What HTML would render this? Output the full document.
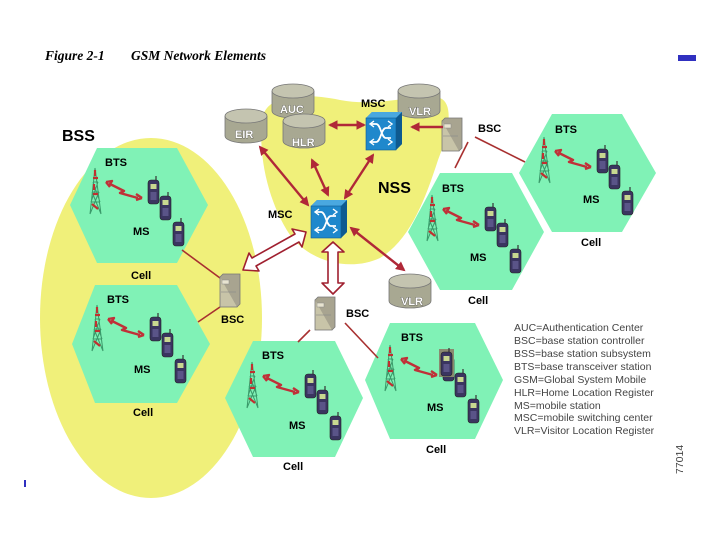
<!DOCTYPE html>
<html><head><meta charset="utf-8"><style>
html,body{margin:0;padding:0;background:#fff}
svg{display:block}
.l{font-family:"Liberation Sans",Arial,sans-serif;font-weight:bold;font-size:11px;fill:#000}
.db{font-family:"Liberation Sans",Arial,sans-serif;font-weight:bold;font-size:11px;fill:#fff;stroke:#333;stroke-width:0.6;paint-order:stroke}
.lg{font-family:"Liberation Sans",Arial,sans-serif;font-size:10.5px;fill:#444}
</style></head><body>
<svg width="720" height="540" viewBox="0 0 720 540" xmlns="http://www.w3.org/2000/svg">
<defs>
<g id="tower">
<path d="M7 0 L2 46 M7 0 L13 46 M4 24 L11 24 M3 34 L12 34 M5 14 L10 14 M2 46 L11 24 M13 46 L4 24 M3 34 L10 14 M12 34 L5 14" stroke="#3a9a6a" stroke-width="1" fill="none"/>
<path d="M7 2 v6 M5 10 h5 M6 16 v6 M5 26 h5 M4 36 l6 5" stroke="#c03030" stroke-width="2.2" fill="none"/>
</g>
<g id="phone">
<line x1="8" y1="-4" x2="8" y2="2" stroke="#333" stroke-width="1.2"/>
<rect x="0" y="0" width="11" height="24" rx="3" fill="#3a3560" stroke="#222" stroke-width="0.6"/>
<rect x="2.5" y="4" width="6" height="5" fill="#c8d890"/>
<rect x="2.5" y="12" width="6" height="8" fill="#5a5488"/>
</g>
<g id="cell">
<use href="#tower" x="0" y="0"/>
<path d="M18 14 l6 -1 l-2 3 l14 7 l-4 2 l18 5 M18 14 l4 5 M54 30 l-6 -4 M54 30 l-6 2" stroke="#c03038" stroke-width="2.4" fill="none" stroke-linejoin="round"/>
<use href="#phone" x="60" y="12"/>
<use href="#phone" x="72" y="28"/>
<use href="#phone" x="85" y="54"/>
</g>
<g id="cyl">
<path d="M0 8 v20 a21 7 0 0 0 42 0 v-20" fill="#a8a892" stroke="#777" stroke-width="0.8"/>
<ellipse cx="21" cy="8" rx="21" ry="7" fill="#c4c4b0" stroke="#777" stroke-width="0.8"/>
</g>
<g id="sw">
<path d="M0 6 L6 0 H36 V32 L30 38 H0 Z" fill="#1a78b8"/>
<path d="M0 6 L6 0 H36 L30 6 Z" fill="#4aa8e0"/>
<path d="M30 6 L36 0 V32 L30 38 Z" fill="#0e5a90"/>
<rect x="0" y="6" width="30" height="32" fill="#1f88cc" stroke="#0e5a90" stroke-width="0.6"/>
<path d="M5 12 h5 c5 0 5 14 10 14 h5 M5 30 h5 c5 0 5 -14 10 -14 h5" stroke="#fff" stroke-width="1.8" fill="none"/>
<path d="M22 9 l4 3 l-4 3 M22 27 l4 3 l-4 3 M8 9 l-4 3 l4 3 M8 27 l-4 3 l4 3" stroke="#fff" stroke-width="1.4" fill="none"/>
</g>
<g id="srv">
<rect x="0" y="3" width="17" height="30" fill="#c8c4a8" stroke="#777" stroke-width="0.8"/>
<path d="M0 3 l3 -3 h17 v30 l-3 3" fill="#a8a490" stroke="#777" stroke-width="0.8"/>
<rect x="2" y="6" width="7" height="4" fill="#e8e4d0" stroke="#888" stroke-width="0.5"/>
<line x1="1" y1="18" x2="16" y2="18" stroke="#888" stroke-width="0.6"/>
</g>
<marker id="ah" viewBox="0 0 10 10" refX="8" refY="5" markerWidth="4" markerHeight="4" orient="auto-start-reverse"><path d="M0 0 L10 5 L0 10 Z" fill="#b02838"/></marker>
</defs>

<text x="45" y="60" font-family="Liberation Serif,serif" font-style="italic" font-weight="bold" font-size="13.5">Figure 2-1</text>
<text x="131" y="60" font-family="Liberation Serif,serif" font-style="italic" font-weight="bold" font-size="13.5">GSM Network Elements</text>
<rect x="678" y="55" width="18" height="6" fill="#3030c0"/>
<rect x="24" y="480" width="2" height="7" fill="#3030c0"/>

<!-- BSS ellipse -->
<ellipse cx="151" cy="318" rx="111" ry="180" fill="#f0f07a"/>
<!-- NSS blob -->
<path d="M262 120 C265 95 300 92 340 100 C380 108 420 92 440 98 C455 104 448 135 438 160 C425 200 410 240 380 258 C350 272 310 262 290 235 C270 205 258 160 262 120 Z" fill="#f0f07a"/>

<!-- hexagons -->
<g fill="#80f2b6">
<polygon points="97,148 177,148 208,205 177,263 97,263 70,205"/>
<polygon points="95,285 177,285 210,344 177,403 95,403 72,344"/>
<polygon points="552,114 622,114 656,173 622,232 552,232 519,173"/>
<polygon points="440,173 512,173 544,232 512,290 440,290 408,232"/>
<polygon points="253,341 335,341 363,398 335,457 253,457 225,398"/>
<polygon points="390,323 475,323 503,380 475,439 390,439 365,380"/>
</g>

<!-- lines BSC-BTS -->
<g stroke="#a83030" stroke-width="1.6">
<line x1="468" y1="142" x2="455" y2="168"/>
<line x1="475" y1="137" x2="525" y2="162"/>
<line x1="182" y1="250" x2="220" y2="278"/>
<line x1="198" y1="322" x2="220" y2="307"/>
<line x1="310" y1="330" x2="298" y2="342"/>
<line x1="345" y1="323" x2="378" y2="358"/>
</g>

<use href="#cell" x="88" y="168"/>
<use href="#cell" x="90" y="305"/>
<use href="#cell" x="537" y="137"/>
<use href="#cell" x="425" y="195"/>
<use href="#cell" x="245" y="362"/>
<use href="#cell" x="383" y="345"/>
<rect x="439" y="349" width="15" height="28" fill="#8a8a70"/>
<use href="#phone" x="441" y="352"/>

<!-- databases -->
<use href="#cyl" x="225" y="108"/><text class="db" x="235" y="138">EIR</text>
<use href="#cyl" x="272" y="83"/><text class="db" x="280" y="113">AUC</text>
<use href="#cyl" x="283" y="113"/><text class="db" x="292" y="146">HLR</text>
<use href="#cyl" x="398" y="83"/><text class="db" x="409" y="115">VLR</text>
<use href="#cyl" x="389" y="273"/><text class="db" x="401" y="305">VLR</text>

<use href="#sw" x="366" y="112"/>
<use href="#sw" x="311" y="200"/>
<use href="#srv" x="442" y="118"/>
<use href="#srv" x="220" y="274"/>
<use href="#srv" x="315" y="297"/>

<!-- red arrows -->
<g stroke="#b02838" stroke-width="2.4" marker-start="url(#ah)" marker-end="url(#ah)">
<line x1="330" y1="125" x2="364" y2="125"/>
<line x1="260" y1="147" x2="308" y2="205"/>
<line x1="312" y1="160" x2="328" y2="195"/>
<line x1="373" y1="155" x2="345" y2="198"/>
<line x1="351" y1="228" x2="404" y2="270"/>
</g>
<line x1="443" y1="127" x2="412" y2="127" stroke="#b02838" stroke-width="2.4" marker-end="url(#ah)"/>

<!-- hollow big arrows -->
<path d="M306 232 L292 229 L295 234 L252 258 L249 253 L243 270 L259 271 L256 266 L299 242 L302 247 Z" fill="#fff" stroke="#a02030" stroke-width="1.6" stroke-linejoin="round"/>
<path d="M333 242 L322 252 L328 252 L328 283 L322 283 L333 294 L344 283 L338 283 L338 252 L344 252 Z" fill="#fff" stroke="#a02030" stroke-width="1.6" stroke-linejoin="round"/>

<!-- labels -->
<g class="l">
<text x="361" y="107">MSC</text>
<text x="62" y="141" font-size="16">BSS</text>
<text x="478" y="132">BSC</text>
<text x="555" y="133">BTS</text>
<text x="105" y="166">BTS</text>
<text x="378" y="193" font-size="16">NSS</text>
<text x="442" y="192">BTS</text>
<text x="583" y="203">MS</text>
<text x="268" y="218">MSC</text>
<text x="133" y="235">MS</text>
<text x="581" y="246">Cell</text>
<text x="470" y="261">MS</text>
<text x="131" y="279">Cell</text>
<text x="107" y="303">BTS</text>
<text x="468" y="304">Cell</text>
<text x="346" y="317">BSC</text>
<text x="221" y="323">BSC</text>
<text x="401" y="341">BTS</text>
<text x="262" y="359">BTS</text>
<text x="134" y="373">MS</text>
<text x="427" y="411">MS</text>
<text x="133" y="416">Cell</text>
<text x="289" y="429">MS</text>
<text x="426" y="453">Cell</text>
<text x="283" y="470">Cell</text>
</g>

<g class="lg">
<text x="514" y="331">AUC=Authentication Center</text>
<text x="514" y="344">BSC=base station controller</text>
<text x="514" y="357">BSS=base station subsystem</text>
<text x="514" y="370">BTS=base transceiver station</text>
<text x="514" y="383">GSM=Global System Mobile</text>
<text x="514" y="396">HLR=Home Location Register</text>
<text x="514" y="409">MS=mobile station</text>
<text x="514" y="421">MSC=mobile switching center</text>
<text x="514" y="434">VLR=Visitor Location Register</text>
</g>
<text class="lg" font-size="9" transform="translate(683,474) rotate(-90)">77014</text>
</svg>
</body></html>
